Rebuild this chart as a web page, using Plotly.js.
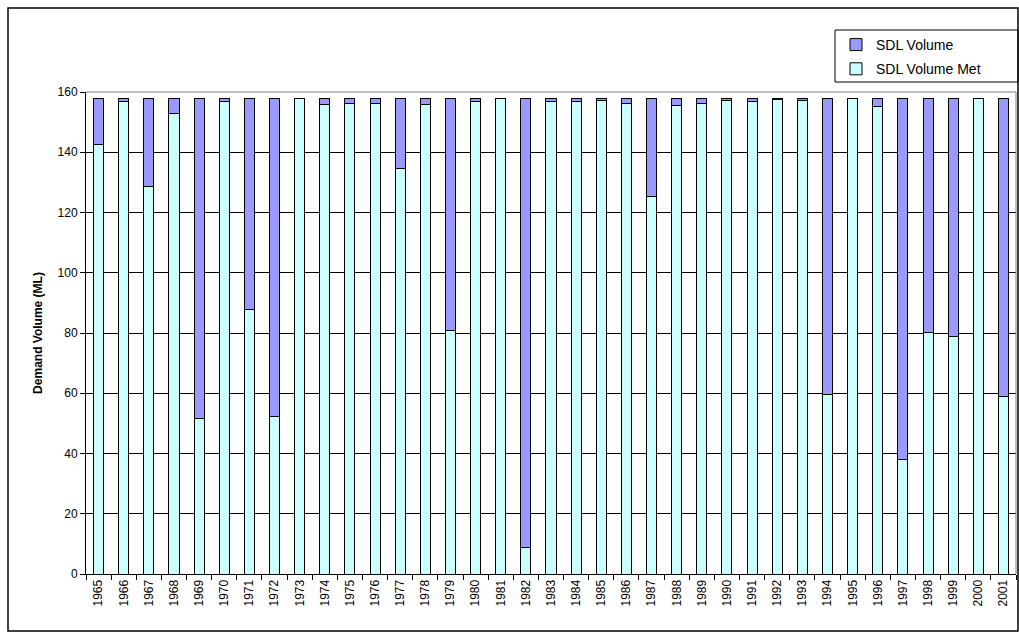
<!DOCTYPE html>
<html>
<head>
<meta charset="utf-8">
<script src="https://cdn.plot.ly/plotly-3.0.1.min.js"></script>
<style>html,body{margin:0;padding:0;background:#fff;}#chart{width:1019px;height:633px;}</style>
</head>
<body>
<div id="chart"></div>
<script>
const years = ["1965","1966","1967","1968","1969","1970","1971","1972","1973","1974","1975","1976","1977","1978","1979","1980","1981","1982","1983","1984","1985","1986","1987","1988","1989","1990","1991","1992","1993","1994","1995","1996","1997","1998","1999","2000","2001"];
const sdlVolume = 158;
const sdlVolumeMet = [142.7,156.8,128.5,152.9,51.7,156.7,87.9,52.2,157.8,156.0,156.2,156.2,134.7,155.9,80.7,156.9,157.9,8.7,156.8,156.7,157.2,156.2,125.2,155.6,156.3,157.1,156.9,157.6,157.1,59.6,157.8,155.1,37.9,80.3,79.0,157.7,58.9];
const shortfall = sdlVolumeMet.map(v => sdlVolume - v);

const traces = [
  {type:'bar', name:'SDL Volume Met', x:years, y:sdlVolumeMet, legendgroup:'met', legendrank:2,
   marker:{color:'#CCFFFF', line:{color:'#000', width:1}}},
  {type:'bar', name:'SDL Volume', x:years, y:shortfall, legendgroup:'vol', legendrank:1,
   marker:{color:'#9999FF', line:{color:'#000', width:1}}}
];
const px = (p) => (p - 86) / 930;
const py = (p) => (574 - p) / 482;
const layout = {
  width:1019, height:633,
  margin:{l:86, r:3, t:92, b:59},
  barmode:'stack', bargap:0.6,
  paper_bgcolor:'#fff', plot_bgcolor:'#fff',
  font:{family:'Liberation Sans, Arial, sans-serif', size:12, color:'#000'},
  xaxis:{type:'category', tickangle:-90, tickfont:{size:12}, ticks:'outside', ticklen:5,
         tickson:'boundaries', tickcolor:'#000', showline:true, linecolor:'#000', linewidth:1,
         showgrid:false, mirror:false},
  yaxis:{range:[0,160], dtick:20, ticks:'outside', ticklen:5, tickcolor:'#000',
         showline:true, linecolor:'#000', linewidth:1, gridcolor:'#000', gridwidth:1,
         zeroline:false, tickfont:{size:12},
         title:{text:'<b>Demand Volume (ML)</b>', font:{size:12}, standoff:12}},
  legend:{x:px(836), y:py(29), xanchor:'left', yanchor:'top', borderwidth:0,
          bgcolor:'rgba(0,0,0,0)', font:{size:14}, traceorder:'grouped', tracegroupgap:3},
  showlegend:true,
  shapes:[
    {type:'rect', xref:'paper', yref:'paper', x0:px(835), x1:px(1018), y0:py(82), y1:py(30), line:{color:'#000', width:1}},
    {type:'line', xref:'paper', yref:'paper', x0:1, x1:1, y0:0, y1:1, line:{color:'#808080', width:1}},
    {type:'line', xref:'paper', yref:'paper', x0:0, x1:1, y0:1, y1:1, line:{color:'#808080', width:1}},
    {type:'rect', xref:'paper', yref:'paper', x0:px(8), x1:px(1018), y0:py(631), y1:py(8), line:{color:'#000', width:1.5}}
  ]
};
Plotly.newPlot('chart', traces, layout, {displayModeBar:false, staticPlot:true});
</script>
</body>
</html>
